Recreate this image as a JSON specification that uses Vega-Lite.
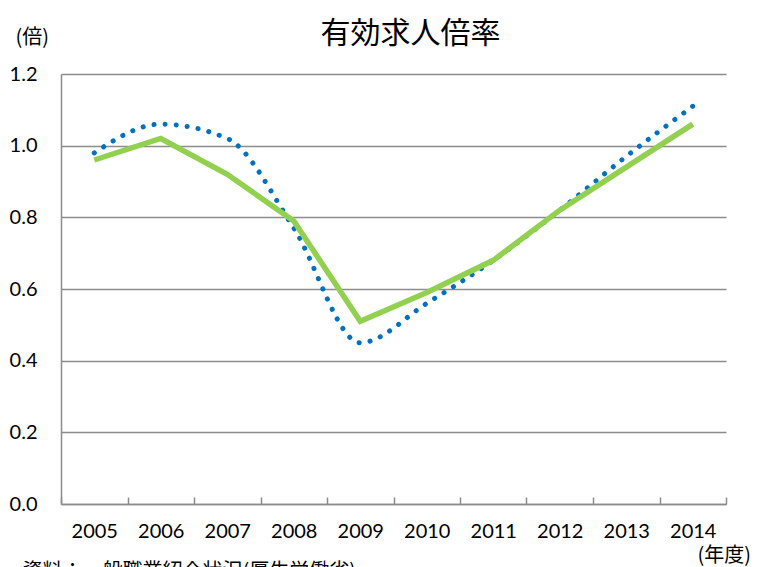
{
  "$schema": "https://vega.github.io/schema/vega-lite/v6.json",
  "width": 665,
  "height": 430,
  "autosize": {"type": "none"},
  "padding": {"left": 61, "top": 74, "right": 34, "bottom": 63},
  "background": "white",
  "config": {"view": {"stroke": null}},
  "title": {
    "text": "有効求人倍率",
    "font": "Noto Sans CJK JP",
    "fontSize": 30,
    "fontWeight": "normal",
    "color": "black",
    "anchor": "middle",
    "baseline": "alphabetic",
    "offset": -46,
    "dx": 17
  },
  "datasets": {
    "rows": [
      {"year": 2005, "series": "系列1", "value": 0.98},
      {"year": 2006, "series": "系列1", "value": 1.06},
      {"year": 2007, "series": "系列1", "value": 1.02},
      {"year": 2008, "series": "系列1", "value": 0.77},
      {"year": 2009, "series": "系列1", "value": 0.45},
      {"year": 2010, "series": "系列1", "value": 0.56},
      {"year": 2011, "series": "系列1", "value": 0.68},
      {"year": 2012, "series": "系列1", "value": 0.82},
      {"year": 2013, "series": "系列1", "value": 0.97},
      {"year": 2014, "series": "系列1", "value": 1.11},
      {"year": 2005, "series": "系列2", "value": 0.96},
      {"year": 2006, "series": "系列2", "value": 1.02},
      {"year": 2007, "series": "系列2", "value": 0.92},
      {"year": 2008, "series": "系列2", "value": 0.79},
      {"year": 2009, "series": "系列2", "value": 0.51},
      {"year": 2010, "series": "系列2", "value": 0.59},
      {"year": 2011, "series": "系列2", "value": 0.68},
      {"year": 2012, "series": "系列2", "value": 0.82},
      {"year": 2013, "series": "系列2", "value": 0.94},
      {"year": 2014, "series": "系列2", "value": 1.06}
    ]
  },
  "data": {"name": "rows"},
  "encoding": {
    "y": {
      "field": "value",
      "type": "quantitative",
      "scale": {"domain": [0, 1.2], "nice": false, "zero": true},
      "axis": {
        "values": [0, 0.2, 0.4, 0.6, 0.8, 1.0, 1.2],
        "format": ".1f",
        "title": "(倍)",
        "titleAngle": 0,
        "titleAlign": "left",
        "titleBaseline": "alphabetic",
        "titleX": -46,
        "titleY": -31,
        "titleFont": "Noto Sans CJK JP",
        "titleFontSize": 20,
        "titleFontWeight": "normal",
        "titleColor": "black",
        "labelFont": "Lato",
        "labelFontSize": 20,
        "labelColor": "black",
        "labelPadding": 24,
        "ticks": false,
        "grid": true,
        "gridColor": "#8c8c8c",
        "gridWidth": 1.5,
        "domain": true,
        "domainColor": "#8c8c8c",
        "domainWidth": 1.5
      }
    }
  },
  "layer": [
    {
      "transform": [{"filter": "datum.series === '系列1'"}],
      "mark": {
        "type": "line",
        "color": "#0070C0",
        "strokeWidth": 5,
        "strokeDash": [0.1, 11],
        "strokeCap": "round",
        "interpolate": "monotone"
      },
      "encoding": {
        "x": {
          "field": "year",
          "type": "quantitative",
          "scale": {"domain": [2004.5, 2014.5], "nice": false, "zero": false},
          "axis": {
            "orient": "bottom",
            "values": [2004.5, 2005.5, 2006.5, 2007.5, 2008.5, 2009.5, 2010.5, 2011.5, 2012.5, 2013.5, 2014.5],
            "labelExpr": "datum.value > 2014 ? '' : format(datum.value + 0.5, 'd')",
            "labelOffset": 33.25,
            "labelOverlap": false,
            "labelFlush": false,
            "labelBound": false,
            "labelFont": "Lato",
            "labelFontSize": 20,
            "labelColor": "black",
            "labelPadding": 24,
            "ticks": true,
            "tickSize": -7,
            "tickColor": "#8c8c8c",
            "tickWidth": 1.5,
            "grid": false,
            "domain": true,
            "domainColor": "#8c8c8c",
            "domainWidth": 1.5,
            "title": "(年度)",
            "titleAlign": "left",
            "titleBaseline": "alphabetic",
            "titleX": 636,
            "titleY": 57,
            "titleFont": "Noto Sans CJK JP",
            "titleFontSize": 20,
            "titleFontWeight": "normal",
            "titleColor": "black"
          }
        }
      }
    },
    {
      "transform": [{"filter": "datum.series === '系列2'"}],
      "mark": {
        "type": "line",
        "color": "#92D050",
        "strokeWidth": 5.5,
        "strokeCap": "butt",
        "strokeJoin": "miter",
        "interpolate": "linear"
      },
      "encoding": {
        "x": {
          "field": "year",
          "type": "quantitative",
          "scale": {"domain": [2004.5, 2014.5], "nice": false, "zero": false},
          "axis": {
            "orient": "bottom",
            "labels": false,
            "ticks": false,
            "domain": false,
            "grid": false,
            "title": "資料：一般職業紹介状況(厚生労働省)",
            "titleAlign": "left",
            "titleBaseline": "alphabetic",
            "titleX": -39,
            "titleY": 73,
            "titleFont": "Noto Sans CJK JP",
            "titleFontSize": 20,
            "titleFontWeight": "normal",
            "titleColor": "black"
          }
        }
      }
    }
  ],
  "resolve": {"axis": {"x": "independent"}}
}
